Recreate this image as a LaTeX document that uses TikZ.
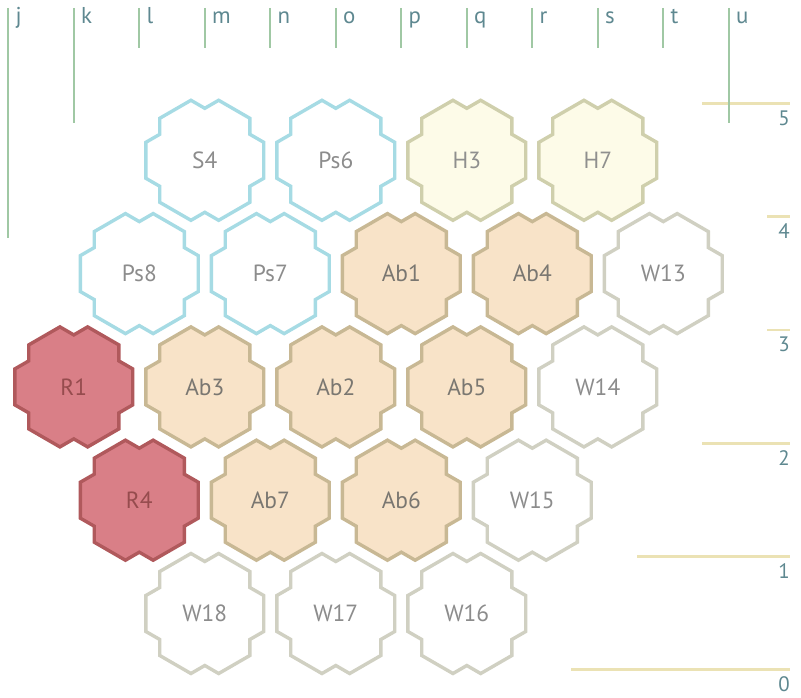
\documentclass[tikz,border=0pt]{standalone}
\usepackage{fontspec}
\setmainfont{PT Sans}
\usepackage{tikz}
\definecolor{mCyan}{HTML}{A6DBE4}
\definecolor{mOlive}{HTML}{CFCFAC}
\definecolor{mCream}{HTML}{FDFBE8}
\definecolor{mTan}{HTML}{C8B894}
\definecolor{mPeach}{HTML}{F8E3C8}
\definecolor{mBrick}{HTML}{B0595C}
\definecolor{mRose}{HTML}{D97F87}
\definecolor{mStone}{HTML}{D0D0C2}
\definecolor{mGreen}{HTML}{A0C8A4}
\definecolor{mStraw}{HTML}{EBE2B4}
\definecolor{mTeal}{HTML}{5E8890}
\definecolor{mGrey}{HTML}{8C8C8C}

\begin{document}
\begin{tikzpicture}[x=1bp, y=-1bp,
      cell/.style={line width=3.4bp, line join=miter},
      cellblue/.style={cell, draw=mCyan, fill=white},
      cellyellow/.style={cell, draw=mOlive, fill=mCream},
      celltan/.style={cell, draw=mTan, fill=mPeach},
      cellred/.style={cell, draw=mBrick, fill=mRose},
      cellwhite/.style={cell, draw=mStone, fill=white},
      lbl/.style={font=\fontsize{23.5}{23.5}\selectfont, inner sep=0pt},
      lblblue/.style={lbl, text=mGrey},
      lblyellow/.style={lbl, text=mGrey!95!mOlive},
      lbltan/.style={lbl, text=mGrey!80!mTan!80!black},
      lblred/.style={lbl, text=mBrick!85!black},
      lblwhite/.style={lbl, text=mGrey},
      colline/.style={draw=mGreen, line width=2.2bp},
      rowline/.style={draw=mStraw, line width=2.8bp},
      axlbl/.style={text=mTeal, inner sep=0pt}]
    \useasboundingbox (0,0) rectangle (801,698);
    % row rules and numbers
    \foreach \n/\s [count=\i from 0] in {5/702,4/767,3/767,2/702,1/637,0/571} {
      \coordinate (rs-\n) at (\s, 103.3+113.3*\i);
      \coordinate (re-\n) at (790, 103.3+113.3*\i);
      \draw[rowline] (rs-\n) -- (re-\n);
      \node[axlbl, font=\fontsize{21}{21}\selectfont, anchor=base east]
        (row-\n) at (790, 125.3+113.3*\i) {\n};
    }
    % column rules and letters
    \foreach \l/\e [count=\i from 0] in {j/238,k/123,l/48,m/48,n/48,o/48,
        p/48,q/48,r/48,s/48,t/48,u/123} {
      \coordinate (cs-\l) at (8.3+65.5*\i, 8);
      \coordinate (ce-\l) at (8.3+65.5*\i, \e);
      \draw[colline] (cs-\l) -- (ce-\l);
      \node[axlbl, font=\fontsize{23}{23}\selectfont, anchor=base west]
        (col-\l) at (15.5+65.5*\i, 24) {\l};
    }
    % cells
    \foreach \lab/\c/\r/\k in {S4/3/1/blue, Ps6/5/1/blue, H3/7/1/yellow, H7/9/1/yellow,
        Ps8/2/2/blue, Ps7/4/2/blue, Ab1/6/2/tan, Ab4/8/2/tan, W13/10/2/white,
        R1/1/3/red, Ab3/3/3/tan, Ab2/5/3/tan, Ab5/7/3/tan, W14/9/3/white,
        R4/2/4/red, Ab7/4/4/tan, Ab6/6/4/tan, W15/8/4/white,
        W18/3/5/white, W17/5/5/white, W16/7/5/white} {
      \begin{scope}[shift={(8.3+65.5*\c, 47+113.3*\r)}]
        \draw[cell\k] (103:61.6) -- (90:52) -- (77:61.6)
          \foreach \a in {30,-30,-90,-150,-210} {
            -- (\a+13:61.6) -- (\a:52) -- (\a-13:61.6) } -- cycle;
        \node[lbl\k] (\lab) at (0,0) {\lab};
      \end{scope}
    }
  \end{tikzpicture}
\end{document}
